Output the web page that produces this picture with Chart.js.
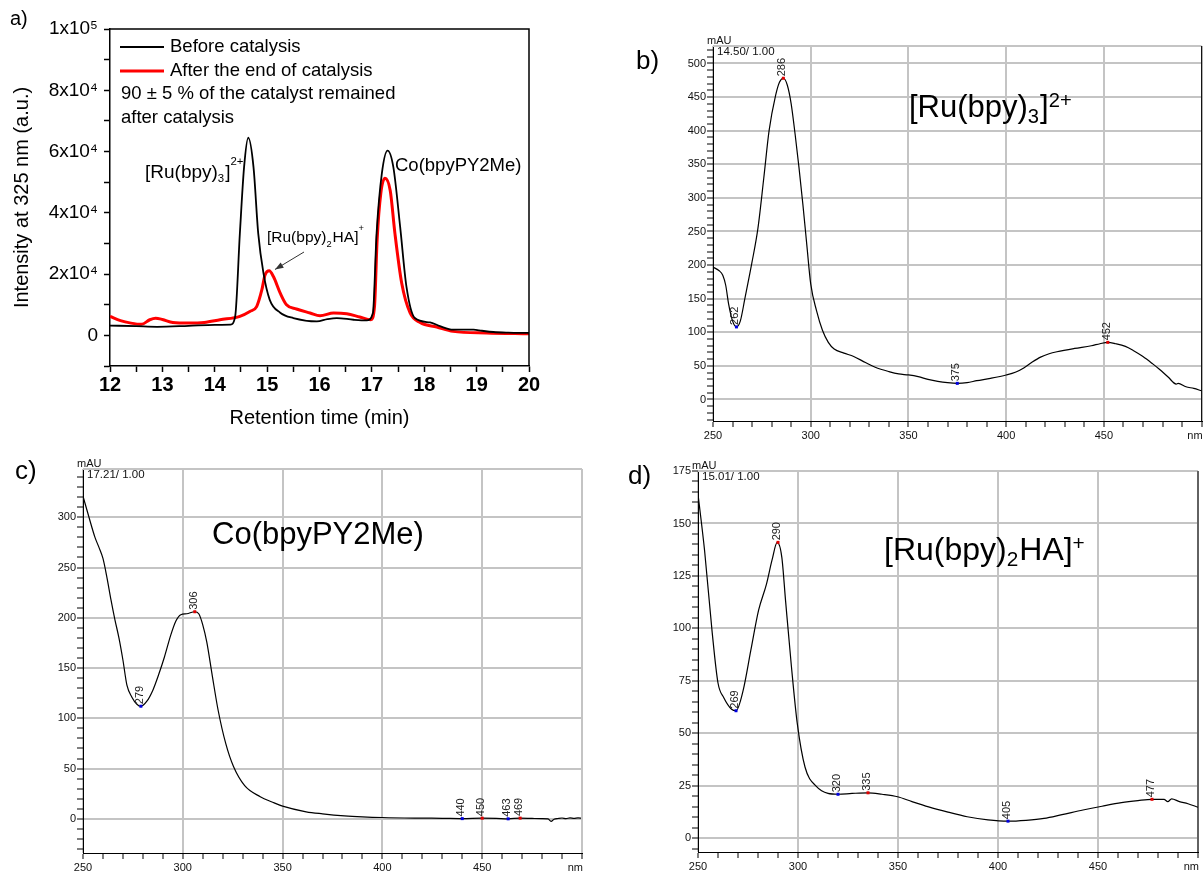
<!DOCTYPE html>
<html>
<head>
<meta charset="utf-8">
<script src="https://cdn.jsdelivr.net/npm/chart.js@4.4.0/dist/chart.umd.min.js"></script>
<style>
  body { margin: 0; background: #fff; width: 1204px; height: 871px; overflow: hidden; position: relative; }
  canvas { position: absolute; }
</style>
</head>
<body>
<canvas id="chartA" width="600" height="440" style="left:0;top:0"></canvas>
<canvas id="chartB" width="604" height="445" style="left:600px;top:0"></canvas>
<canvas id="chartC" width="600" height="426" style="left:0;top:445px"></canvas>
<canvas id="chartD" width="604" height="426" style="left:600px;top:445px"></canvas>
<script>
var FONT = "'Liberation Sans', Arial, sans-serif";
var GRID = '#c4c4c4';

// a) HPLC chromatograms at 325 nm
var timeBefore = [12.0, 12.5, 12.9, 13.5, 14.0, 14.3, 14.39, 14.48, 14.56, 14.64, 14.74, 14.83, 14.93, 15.05, 15.25, 15.5, 15.95, 16.15, 16.33, 16.65, 16.9, 17.02, 17.09, 17.19, 17.3, 17.41, 17.54, 17.66, 17.82, 18.11, 18.3, 18.55, 18.94, 19.1, 19.32, 19.6, 20.0];
var intensityBefore = [3200, 3000, 2800, 3100, 3400, 3500, 6200, 33400, 54900, 64500, 54900, 33300, 20300, 11600, 7400, 5650, 4550, 5300, 5650, 5100, 4870, 7300, 33300, 52800, 60300, 54900, 35400, 15900, 5650, 4230, 3000, 1850, 1850, 1500, 1100, 900, 780];
var timeAfter = [12.0, 12.2, 12.4, 12.6, 12.76, 12.87, 13.0, 13.2, 13.5, 13.8, 14.1, 14.48, 14.67, 14.8, 14.9, 14.96, 15.04, 15.12, 15.25, 15.37, 15.56, 15.82, 16.01, 16.27, 16.52, 16.77, 16.98, 17.05, 17.1, 17.17, 17.25, 17.35, 17.44, 17.57, 17.73, 17.92, 18.24, 18.55, 19.19, 20.0];
var intensityAfter = [6200, 4800, 4000, 3600, 5100, 5600, 5200, 4200, 4000, 4200, 5100, 6200, 7800, 9400, 14900, 19700, 21100, 19200, 13800, 10000, 8600, 7300, 6400, 7300, 7050, 6000, 5100, 9400, 31100, 46300, 51300, 47300, 33300, 17000, 7300, 4230, 2730, 1300, 780, 500];
var timeTicks = [12, 12.5, 13, 13.5, 14, 14.5, 15, 15.5, 16, 16.5, 17, 17.5, 18, 18.5, 19, 19.5, 20];
var timeLabels = [12, 13, 14, 15, 16, 17, 18, 19, 20];
var intensityTicks = [-10000, 0, 10000, 20000, 30000, 40000, 50000, 60000, 70000, 80000, 90000, 100000];
var intensityLabelValues = [0, 20000, 40000, 60000, 80000, 100000];
var intensityLabelText = ['0', '2x10\u2074', '4x10\u2074', '6x10\u2074', '8x10\u2074', '1x10\u2075'];

// b) UV-vis spectrum at 14.50 min
var wlB = [250, 253, 255, 256.5, 258, 260, 262, 264, 266.3, 270, 273, 276, 278.7, 282, 284, 286, 288, 290, 292, 294, 296, 298, 300, 303, 306, 309, 312, 317, 322, 328, 333, 340, 345, 350, 355, 360, 365, 370, 375, 380, 385, 392, 400, 405, 409, 413, 417.6, 422, 426, 435, 443.6, 448, 452, 456, 461, 465, 470, 475, 478.4, 483, 487, 488, 492, 496, 500];
var absB = [197, 192, 185, 170, 142, 117, 108, 117, 150, 205, 255, 330, 400, 452, 472, 478, 468, 440, 395, 345, 290, 230, 172, 132, 103, 85, 75, 69, 64, 55, 48, 41.5, 38, 36.5, 34, 30, 27, 25, 24, 25, 28, 31.5, 36.5, 41, 47, 55, 63, 68, 71, 76, 80, 83, 85, 83, 79, 73, 64, 53, 45, 33, 23, 24, 19, 16.5, 13];
var peakNmB = [262, 286, 375, 452];
var peakAbsB = [108, 478, 24, 85];
var peakKindB = ['min', 'max', 'min', 'max'];

// c) UV-vis spectrum at 17.21 min
var wlC = [250, 253, 256, 258, 260, 262, 264, 266, 268, 270, 272, 274.5, 277, 279, 282, 285, 288, 290.8, 294, 296.6, 299, 302, 306, 308, 310, 312, 314.8, 317.7, 321.5, 325.4, 331, 338.8, 345, 350, 361.8, 370, 381, 390, 400, 419, 430, 440, 450, 457, 463, 469, 475, 480, 483, 484.5, 486, 488, 490, 492, 494, 496, 498, 500];
var absC = [321, 300, 280, 270, 259, 240, 218, 198, 180, 158, 133, 121, 114, 112, 117, 128, 144, 161, 183, 197, 203, 204, 206, 204, 193, 176, 142, 108, 75, 52, 33, 22, 16.5, 12.6, 7, 5, 3, 2, 1.3, 0.7, 0.5, 0.2, 0.6, 0.4, 0, 0.7, 0.4, 0.2, 0, -2.5, -0.5, 0.3, 0.8, 0.2, 1, 0.5, 1, 0.5];
var peakNmC = [279, 306, 440, 450, 463, 469];
var peakAbsC = [112, 206, 0.2, 0.6, 0, 0.7];
var peakKindC = ['min', 'max', 'min', 'max', 'min', 'max'];

// d) UV-vis spectrum at 15.01 min
var wlD = [250, 253.3, 257.1, 260, 262.9, 266.8, 269, 272.6, 276.4, 280.3, 284.2, 287, 289.6, 291.9, 293.8, 296.7, 299.6, 303.5, 309.3, 315, 320, 327, 335, 342, 349.8, 357, 365.3, 375, 384.6, 395, 405, 414, 423, 432, 442.5, 452, 461.7, 470, 477, 483, 484.9, 486.8, 490.7, 495, 500];
var absD = [164, 137, 98, 74, 67, 61.5, 60.8, 70.6, 89.5, 108.7, 121, 132.5, 141, 134, 113, 82, 55, 34, 24.6, 21.4, 21, 21.4, 21.7, 21, 19.8, 17.5, 15, 12.5, 10.3, 8.8, 8.2, 8.6, 9.5, 11.3, 13.5, 15.3, 17, 18, 18.6, 18.6, 17.5, 18.8, 17.5, 16.5, 14.8];
var peakNmD = [269, 290, 320, 335, 405, 477];
var peakAbsD = [60.8, 141, 21, 21.7, 8.2, 18.6];
var peakKindD = ['min', 'max', 'min', 'max', 'min', 'max'];

var wlLabels = [250, 300, 350, 400, 450];
var absLabelsB = [0, 50, 100, 150, 200, 250, 300, 350, 400, 450, 500];
var absLabelsC = [0, 50, 100, 150, 200, 250, 300];
var absLabelsD = [0, 25, 50, 75, 100, 125, 150, 175];

function pts(xs, ys) {
  return xs.map(function (x, i) { return { x: x, y: ys[i] }; });
}
function range(a, b, step) {
  var r = [];
  for (var v = a; v <= b + 1e-9; v += step) r.push(Math.round(v * 100) / 100);
  return r;
}
// text with sub/superscripts: parts = [[text, 0|-1|1], ...]
function richText(ctx, x, y, parts, o) {
  parts.forEach(function (p) {
    var s = p[1] === 0 ? o.size : o.size * o.small;
    var dy = p[1] === 1 ? o.sup * o.size : (p[1] === -1 ? o.sub * o.size : 0);
    ctx.font = s + 'px ' + FONT;
    ctx.textBaseline = 'alphabetic';
    ctx.textAlign = 'left';
    ctx.fillText(p[0], x, y + dy);
    x += ctx.measureText(p[0]).width + (p[1] === 0 ? 0 : 1);
  });
}

// ---------- panel a ----------
var decorA = {
  id: 'decorA',
  afterDraw: function (chart) {
    var ctx = chart.ctx, a = chart.chartArea, ds = chart.data.datasets;
    ctx.save();
    ctx.strokeStyle = '#000';
    ctx.lineWidth = 1.5;
    ctx.beginPath();
    ctx.moveTo(a.left, a.top); ctx.lineTo(a.right, a.top); ctx.lineTo(a.right, a.bottom);
    ctx.stroke();

    // legend
    ctx.font = '18.5px ' + FONT;
    ctx.textBaseline = 'middle';
    ctx.fillStyle = '#000';
    [47, 71].forEach(function (y, i) {
      ctx.strokeStyle = ds[i].borderColor;
      ctx.lineWidth = ds[i].borderWidth;
      ctx.beginPath(); ctx.moveTo(120, y); ctx.lineTo(164, y); ctx.stroke();
      ctx.fillText(ds[i].label, 170, y);
    });
    ctx.fillText('90 \u00b1 5 % of the catalyst remained', 121, 94);
    ctx.fillText('after catalysis', 121, 118);

    // peak annotations
    richText(ctx, 145, 178, [['[Ru(bpy)', 0], ['3', -1], [']', 0], ['2+', 1]], { size: 19, small: 0.6, sub: 0.22, sup: -0.7 });
    richText(ctx, 395, 171, [['Co(bpyPY2Me)', 0]], { size: 18.5, small: 0.6, sub: 0, sup: 0 });
    richText(ctx, 267, 242, [['[Ru(bpy)', 0], ['2', -1], ['HA]', 0], ['+', 1]], { size: 15.5, small: 0.6, sub: 0.3, sup: -0.7 });

    // arrow towards the red peak
    var xs = chart.scales.x, ys = chart.scales.y;
    var tx = xs.getPixelForValue(15.15), ty = ys.getPixelForValue(21500);
    var sx = 304, sy = 252;
    var ang = Math.atan2(ty - sy, tx - sx);
    ctx.strokeStyle = '#333'; ctx.fillStyle = '#333'; ctx.lineWidth = 1;
    ctx.beginPath(); ctx.moveTo(sx, sy); ctx.lineTo(tx, ty); ctx.stroke();
    ctx.beginPath();
    ctx.moveTo(tx, ty);
    ctx.lineTo(tx - 9 * Math.cos(ang - 0.35), ty - 9 * Math.sin(ang - 0.35));
    ctx.lineTo(tx - 9 * Math.cos(ang + 0.35), ty - 9 * Math.sin(ang + 0.35));
    ctx.closePath(); ctx.fill();

    ctx.fillStyle = '#000';
    ctx.font = '20px ' + FONT;
    ctx.textBaseline = 'middle';
    ctx.fillText('a)', 10, 19);
    ctx.restore();
  }
};

var chartA = new Chart(document.getElementById('chartA'), {
  type: 'line',
  data: {
    datasets: [{
      label: 'Before catalysis',
      data: pts(timeBefore, intensityBefore),
      borderColor: '#000000',
      borderWidth: 1.8,
      pointRadius: 0,
      cubicInterpolationMode: 'monotone',
      fill: false
    }, {
      label: 'After the end of catalysis',
      data: pts(timeAfter, intensityAfter),
      borderColor: '#ff0000',
      borderWidth: 3,
      pointRadius: 0,
      cubicInterpolationMode: 'monotone',
      fill: false
    }]
  },
  options: {
    responsive: false,
    animation: false,
    devicePixelRatio: 1,
    layout: { padding: { left: 0, top: 29, right: 71, bottom: 0 } },
    plugins: { legend: { display: false }, tooltip: { enabled: false } },
    scales: {
      x: {
        type: 'linear', min: 12, max: 20,
        afterBuildTicks: function (s) { s.ticks = timeTicks.map(function (v) { return { value: v }; }); },
        afterFit: function (s) { s.height = 74; },
        ticks: {
          autoSkip: false, maxRotation: 0, padding: 1, color: '#000',
          font: { family: FONT, size: 20, weight: 'bold' },
          callback: function (v) { return timeLabels.indexOf(v) >= 0 ? String(v) : ''; }
        },
        grid: { drawOnChartArea: false, tickLength: 6, tickColor: '#000', tickWidth: 1.5 },
        border: { color: '#000', width: 1.5 },
        title: { display: true, text: 'Retention time (min)', color: '#000', font: { family: FONT, size: 20 }, padding: { top: 0, bottom: 10 } }
      },
      y: {
        min: -10000, max: 100000,
        afterBuildTicks: function (s) { s.ticks = intensityTicks.map(function (v) { return { value: v }; }); },
        afterFit: function (s) { s.width = 110; },
        ticks: {
          autoSkip: false, padding: 6, color: '#000',
          font: { family: FONT, size: 19 },
          callback: function (v) { var i = intensityLabelValues.indexOf(v); return i < 0 ? '' : intensityLabelText[i]; }
        },
        grid: { drawOnChartArea: false, tickLength: 6, tickColor: '#000', tickWidth: 1.5 },
        border: { color: '#000', width: 1.5 },
        title: { display: true, text: 'Intensity at 325 nm (a.u.)', color: '#000', font: { family: FONT, size: 20 }, padding: { top: 10, bottom: 0 } }
      }
    }
  },
  plugins: [decorA]
});

// ---------- panels b, c, d ----------
function spectrumDecor(cfg) {
  return {
    id: 'decor' + cfg.letter,
    afterDraw: function (chart) {
      var ctx = chart.ctx, a = chart.chartArea, xs = chart.scales.x, ys = chart.scales.y;
      ctx.save();
      ctx.strokeStyle = GRID; ctx.lineWidth = 2;
      ctx.beginPath(); ctx.moveTo(a.left, a.top); ctx.lineTo(a.right, a.top); ctx.stroke();
      ctx.strokeStyle = cfg.rightColor; ctx.lineWidth = cfg.rightColor === '#000' ? 1 : 2;
      ctx.beginPath(); ctx.moveTo(a.right, a.top); ctx.lineTo(a.right, a.bottom); ctx.stroke();

      cfg.peakNm.forEach(function (nm, i) {
        var px = xs.getPixelForValue(nm), py = ys.getPixelForValue(cfg.peakAbs[i]);
        ctx.fillStyle = cfg.peakKind[i] === 'max' ? '#e00000' : '#0000e0';
        ctx.fillRect(px - 1.5, py - 1.5, 3, 3);
        ctx.save();
        ctx.translate(px - 1, py - 2);
        ctx.rotate(-Math.PI / 2);
        ctx.fillStyle = '#222';
        ctx.font = '11px ' + FONT;
        ctx.textAlign = 'left';
        ctx.textBaseline = 'middle';
        ctx.fillText(String(nm), 0, 0);
        ctx.restore();
      });

      ctx.fillStyle = '#111';
      ctx.font = '11px ' + FONT;
      ctx.textBaseline = 'middle';
      ctx.textAlign = 'left';
      ctx.fillText('mAU', a.left - 6, a.top - 5);
      ctx.font = '11.5px ' + FONT;
      ctx.fillText(cfg.run, a.left + 4, a.top + 6);
      ctx.font = '11px ' + FONT;
      ctx.textAlign = 'right';
      ctx.fillText('nm', a.right + 1, a.bottom + 15);

      ctx.fillStyle = '#000';
      richText(ctx, cfg.titleX, cfg.titleY, cfg.title, { size: cfg.titleSize, small: 0.65, sub: 0.2, sup: -0.32 });
      ctx.font = '26px ' + FONT;
      ctx.textAlign = 'left';
      ctx.textBaseline = 'middle';
      ctx.fillText(cfg.letter + ')', cfg.letterX, cfg.letterY);
      ctx.restore();
    }
  };
}

function spectrumChart(id, wl, absorb, cfg) {
  return new Chart(document.getElementById(id), {
    type: 'line',
    data: {
      datasets: [{
        label: cfg.run,
        data: pts(wl, absorb),
        borderColor: '#000',
        borderWidth: 1.2,
        pointRadius: 0,
        cubicInterpolationMode: 'monotone',
        fill: false
      }]
    },
    options: {
      responsive: false,
      animation: false,
      devicePixelRatio: 1,
      layout: { padding: cfg.pad },
      plugins: { legend: { display: false }, tooltip: { enabled: false } },
      scales: {
        x: {
          type: 'linear', min: 250, max: 500,
          afterBuildTicks: function (s) { s.ticks = range(250, 500, 10).map(function (v) { return { value: v }; }); },
          afterFit: function (s) { s.height = cfg.xHeight; },
          ticks: {
            autoSkip: false, maxRotation: 0, padding: 2.4, color: '#111',
            font: { family: FONT, size: 11 },
            callback: function (v) { return wlLabels.indexOf(v) >= 0 ? String(v) : ''; }
          },
          grid: {
            color: function (c) { return c.tick && c.tick.value % 50 === 0 ? GRID : 'rgba(0,0,0,0)'; },
            lineWidth: 2, tickLength: 6, tickColor: '#000', tickWidth: 1
          },
          border: { color: '#000', width: 1 }
        },
        y: {
          min: cfg.yMin, max: cfg.yMax,
          afterBuildTicks: function (s) { s.ticks = range(cfg.yTickFrom, cfg.yTickTo, cfg.yMinor).map(function (v) { return { value: v }; }); },
          afterFit: function (s) { s.width = cfg.yWidth; },
          ticks: {
            autoSkip: false, padding: 1, color: '#111',
            font: { family: FONT, size: 11 },
            callback: function (v) { return cfg.yLabels.indexOf(v) >= 0 ? String(v) : ''; }
          },
          grid: {
            color: function (c) { return c.tick && cfg.yLabels.indexOf(c.tick.value) >= 0 ? GRID : 'rgba(0,0,0,0)'; },
            lineWidth: 2, tickLength: 6, tickColor: '#000', tickWidth: 1
          },
          border: { color: '#000', width: 1 }
        }
      }
    },
    plugins: [spectrumDecor(cfg)]
  });
}

var chartB = spectrumChart('chartB', wlB, absB, {
  letter: 'b', letterX: 36, letterY: 62, run: '14.50/ 1.00',
  pad: { left: 0, top: 46, right: 2, bottom: 0 }, yWidth: 113, xHeight: 24,
  yMin: -32, yMax: 526, yTickFrom: -30, yTickTo: 520, yMinor: 10, yLabels: absLabelsB,
  peakNm: peakNmB, peakAbs: peakAbsB, peakKind: peakKindB, rightColor: '#000',
  title: [['[Ru(bpy)', 0], ['3', -1], [']', 0], ['2+', 1]], titleX: 309, titleY: 117, titleSize: 31
});

var chartC = spectrumChart('chartC', wlC, absC, {
  letter: 'c', letterX: 15, letterY: 27, run: '17.21/ 1.00',
  pad: { left: 0, top: 24, right: 18, bottom: 0 }, yWidth: 83, xHeight: 18,
  yMin: -34, yMax: 348, yTickFrom: -30, yTickTo: 340, yMinor: 10, yLabels: absLabelsC,
  peakNm: peakNmC, peakAbs: peakAbsC, peakKind: peakKindC, rightColor: GRID,
  title: [['Co(bpyPY2Me)', 0]], titleX: 212, titleY: 99, titleSize: 31
});

var chartD = spectrumChart('chartD', wlD, absD, {
  letter: 'd', letterX: 28, letterY: 32, run: '15.01/ 1.00',
  pad: { left: 0, top: 26, right: 6, bottom: 0 }, yWidth: 98, xHeight: 19,
  yMin: -6.5, yMax: 175, yTickFrom: -5, yTickTo: 175, yMinor: 5, yLabels: absLabelsD,
  peakNm: peakNmD, peakAbs: peakAbsD, peakKind: peakKindD, rightColor: '#000',
  title: [['[Ru(bpy)', 0], ['2', -1], ['HA]', 0], ['+', 1]], titleX: 284, titleY: 115, titleSize: 32
});
</script>
</body>
</html>
